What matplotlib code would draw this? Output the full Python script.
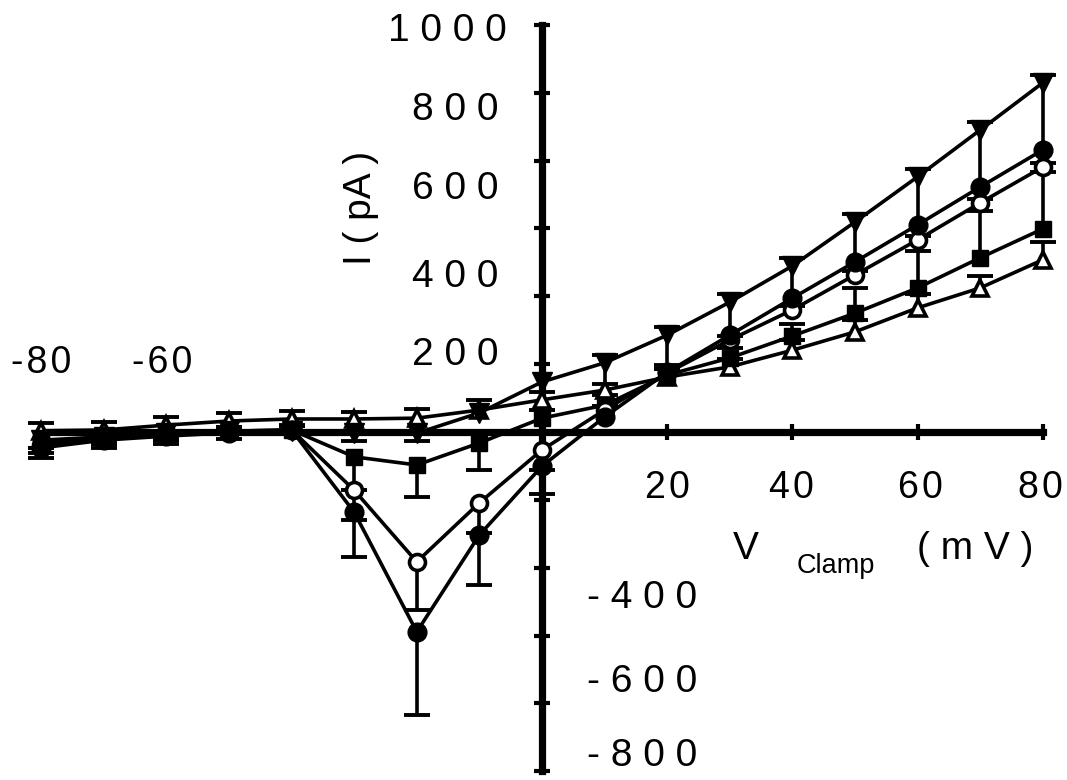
#!/usr/bin/env python3
"""
Current-voltage curves (I in pA vs clamp voltage in mV) for five
conditions, with one-sided SEM bars drawn away from zero. The axes
cross at the origin, old-style, with hand-placed tick labels.
"""
import numpy as np
import matplotlib

matplotlib.use("Agg")
import matplotlib.pyplot as plt  # noqa: E402

plt.rcParams["font.family"] = ["Liberation Sans", "DejaVu Sans"]

V_CLAMP = [-80, -70, -60, -50, -40, -30, -20, -10, 0, 10, 20, 30, 40, 50, 60, 70, 80]

# filled down-triangles
I_TRI_DOWN = [-20, -12, -3, 2, 2, -3, -3, 47, 123, 170, 238, 319, 408, 516, 627, 742, 858]
SEM_TRI_DOWN = [20, 15, 12, 0, 0, 20, 20, 0, 0, 0, 0, 0, 0, 0, 0, 0, 0]
# filled circles
I_DOT = [-39, -20, -10, -2, 5, -197, -491, -253, -84, 37, 147, 238, 329, 418, 509, 602, 693]
SEM_DOT = [25, 20, 20, 15, 12, 110, 204, 123, 69, 152, 111, 101, 98, 118, 138, 160, 184]
# open circles
I_RING = [-32, -15, -5, 2, 5, -143, -319, -174, -44, 54, 145, 226, 300, 386, 472, 563, 651]
SEM_RING = [20, 15, 15, 10, 10, 74, 118, 74, 49, 10, 10, 10, 10, 10, 10, 10, 10]
# filled squares
I_SQUARE = [-25, -15, -5, 2, 5, -61, -81, -27, 34, 66, 140, 182, 236, 292, 354, 428, 499]
SEM_SQUARE = [15, 15, 15, 10, 10, 81, 79, 66, 20, 25, 25, 25, 30, 61, 91, 115, 140]
# open up-triangles
I_TRI_UP = [3, 5, 17, 27, 32, 32, 34, 54, 79, 103, 135, 160, 201, 246, 305, 354, 423]
SEM_TRI_UP = [20, 20, 20, 20, 20, 17, 22, 25, 20, 15, 20, 20, 25, 30, 34, 30, 44]

X_TICKS = [-80, -60, -40, -20, 20, 40, 60, 80]
Y_TICK_STEP = 1000 / 6  # ticks on the original axis are not at round values

X_LABELS = ["-80", "-60", "20", "40", "60", "80"]
Y_LABELS_POS = ["1000", "800", "600", "400", "200"]
Y_LABELS_NEG = ["-400", "-600", "-800"]

# label placement (data coords)
X_LABEL_XY = [(-80, 170), (-60.7, 170), (20.1, -137), (39.9, -137), (60.4, -137), (79.6, -137)]
Y_LABEL_POS_XY = [(-5.6, 985), (-7.0, 792), (-7.0, 596), (-7.0, 382), (-7.0, 190)]
Y_LABEL_NEG_XY = [(7.2, -407), (7.2, -613), (7.2, -795)]

LW = 2.6
HAIR = "\u200a"


def draw_series(ax, v, i, sem, marker, ms, face, mew):
    v = np.asarray(v, float)
    i = np.asarray(i, float)
    sem = np.asarray(sem, float)
    sign = np.where(i < 0, -1.0, 1.0)
    keep = sem > 0
    end = i + sign * sem
    ax.vlines(v[keep], i[keep], end[keep], color="k", lw=LW, zorder=2)
    ax.plot(v[keep], end[keep], ls="none", marker="_", ms=19, mew=2.8,
            color="k", zorder=2)
    ax.plot(v, i, "-", color="k", lw=LW, zorder=3)
    ax.plot(v, i, ls="none", marker=marker, ms=ms, mfc=face, mec="k",
            mew=mew, zorder=4)


def main():
    fig = plt.figure(figsize=(10.67, 7.80), dpi=100)
    ax = fig.add_axes([0, 0, 1, 1])
    ax.set_xlim(-86.58, 83.87)
    ax.set_ylim(-855.0, 1061.4)

    draw_series(ax, V_CLAMP, I_TRI_UP, SEM_TRI_UP, "^", 11, "white", 2.6)
    draw_series(ax, V_CLAMP, I_SQUARE, SEM_SQUARE, "s", 11.5, "k", 1.0)
    draw_series(ax, V_CLAMP, I_RING, SEM_RING, "o", 11.5, "white", 2.6)
    draw_series(ax, V_CLAMP, I_DOT, SEM_DOT, "o", 13.5, "k", 1.0)
    draw_series(ax, V_CLAMP, I_TRI_DOWN, SEM_TRI_DOWN, "v", 14.5, "k", 1.0)

    for side in ("top", "right"):
        ax.spines[side].set_visible(False)
    for side in ("left", "bottom"):
        ax.spines[side].set_position(("data", 0))
        ax.spines[side].set_linewidth(5.2)
    ax.spines["left"].set_bounds(-5 * Y_TICK_STEP, 6 * Y_TICK_STEP)
    ax.spines["bottom"].set_bounds(-80, 80)
    ax.set_xticks(X_TICKS)
    ax.set_yticks([k * Y_TICK_STEP for k in range(-5, 7) if k != 0])
    ax.tick_params(direction="inout", length=11.5, width=3,
                   labelleft=False, labelbottom=False)

    for lab, (x, y) in zip(X_LABELS, X_LABEL_XY):
        ax.text(x, y, HAIR.join(lab), fontsize=27, ha="center", va="center")
    for lab, (x, y) in zip(Y_LABELS_POS, Y_LABEL_POS_XY):
        ax.text(x, y, " ".join(lab), fontsize=28, ha="right", va="center")
    for lab, (x, y) in zip(Y_LABELS_NEG, Y_LABEL_NEG_XY):
        ax.text(x, y, " ".join(lab), fontsize=28, ha="left", va="center")

    ax.text(-28.9, 550, "I ( pA )", fontsize=28, rotation=90,
            ha="center", va="center")
    ax.text(32.6, -287, "V", fontsize=28, ha="center", va="center")
    ax.text(47.0, -329, "Clamp", fontsize=19.5, ha="center", va="center")
    ax.text(69.2, -287, "( m V )", fontsize=28, ha="center", va="center")

    fig.savefig("out.png", dpi=100)
    plt.close(fig)


if __name__ == "__main__":
    main()
